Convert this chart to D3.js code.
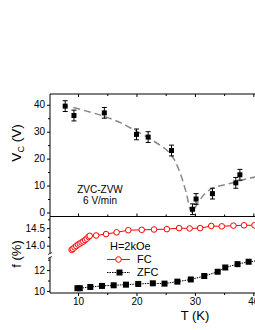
<!DOCTYPE html>
<html>
<head>
<meta charset="utf-8">
<script src="https://cdn.jsdelivr.net/npm/d3@7"></script>
<style>
  body { margin: 0; background: #fff; }
  text { font-family: "Liberation Sans", Arial, sans-serif; fill: #000; }
</style>
</head>
<body>
<div class="viz"></div>
<script>
// critical voltage vs T (top panel)
var vcT   = [7.8, 9.3, 14.5, 20.0, 22.0, 26.0, 29.6, 30.2, 33.0, 37.0, 37.7];
var vcV   = [39.5, 36, 37, 29, 28, 23, 1.2, 5, 7, 11, 14];
var vcErr = [2, 2, 2, 2, 2, 2, 2, 2, 2, 2, 2];

// dashed guide line
var fitT = [9.2, 12, 14.5, 17, 19.5, 22, 24, 25.5, 26.5, 27.5, 28.5, 29.4, 30.5, 31.5, 32.8, 34.5, 36.5, 39, 42];
var fitV = [39, 37.3, 35.7, 33.6, 30.8, 27.8, 25, 22.5, 19.5, 14.5, 7.5, 0.2, 3.5, 6.5, 8.8, 10, 11, 12.6, 13.6];

// volume fraction f (bottom panel)
var fcT = [8.9, 9.1, 9.4, 9.7, 10.0, 10.3, 10.6, 10.9, 11.2, 11.5, 11.8, 12.0, 13.1, 14.8, 16.6, 18.6, 20.9, 23.0, 25.2, 27.3, 29.1, 30.9, 32.8, 34.6, 36.6, 38.4, 40.2];
var fcF = [13.88, 13.91, 13.95, 13.99, 14.03, 14.06, 14.09, 14.12, 14.16, 14.2, 14.25, 14.28, 14.29, 14.33, 14.38, 14.44, 14.45, 14.46, 14.47, 14.5, 14.49, 14.5, 14.56, 14.55, 14.57, 14.58, 14.58];
var zfcT = [9.9, 10.3, 12.1, 14.1, 16.1, 18.2, 20.3, 22.8, 24.8, 27.0, 29.3, 31.6, 33.9, 35.2, 37.3, 39.2, 40.8];
var zfcF = [10.26, 10.26, 10.38, 10.48, 10.54, 10.6, 10.67, 10.73, 10.7, 10.89, 11.1, 11.43, 11.84, 12.25, 12.57, 12.8, 12.9];

var xTicks = [10, 20, 30, 40];
var xMinor = [15, 25, 35];
var vTicks = [0, 10, 20, 30, 40];
var vMinor = [5, 15, 25, 35];
var fHiTicks = [14.0, 14.5];
var fHiMinor = [14.25, 14.75];
var fLoTicks = [10, 12];
var fLoMinor = [11, 13];

var width = 255, height = 330;
var left = 50, right = 265;
var topY = 94, midY = 216.5, breakY = 255.5, botY = 293;

var svg = d3.select(".viz").append("svg")
  .attr("width", width).attr("height", height);

var x = d3.scaleLinear().domain([5.2, 42]).range([left, right]);
var yV = d3.scaleLinear().domain([-1.5, 44]).range([midY, topY]);
var yHi = d3.scaleLinear().domain([13.72, 14.83]).range([breakY, midY]);
var yLo = d3.scaleLinear().domain([9.8, 13.4]).range([botY, breakY]);

// ---- top panel ----
var gTop = svg.append("g");

gTop.append("g")
  .attr("transform", "translate(" + left + ",0)")
  .call(d3.axisLeft(yV).tickValues(vTicks).tickSize(3).tickPadding(2).tickFormat(d3.format("d")))
  .call(function(g) { g.select(".domain").remove(); });
gTop.append("g")
  .attr("transform", "translate(" + left + ",0)")
  .call(d3.axisLeft(yV).tickValues(vMinor).tickSize(2).tickFormat(""))
  .call(function(g) { g.select(".domain").remove(); });

// frame top (ticks inward) and bottom
gTop.append("g")
  .attr("transform", "translate(0," + topY + ")")
  .call(d3.axisBottom(x).tickValues(xTicks).tickSize(3).tickFormat(""))
  .call(function(g) { g.select(".domain").remove(); });
gTop.append("g")
  .attr("transform", "translate(0," + topY + ")")
  .call(d3.axisBottom(x).tickValues(xMinor).tickSize(2).tickFormat(""))
  .call(function(g) { g.select(".domain").remove(); });
gTop.append("g")
  .attr("transform", "translate(0," + midY + ")")
  .call(d3.axisTop(x).tickValues(xTicks).tickSize(3).tickFormat(""))
  .call(function(g) { g.select(".domain").remove(); });
gTop.append("g")
  .attr("transform", "translate(0," + midY + ")")
  .call(d3.axisTop(x).tickValues(xMinor).tickSize(2).tickFormat(""))
  .call(function(g) { g.select(".domain").remove(); });

svg.append("line").attr("x1", left).attr("x2", right).attr("y1", topY).attr("y2", topY).attr("stroke", "#000");
svg.append("line").attr("x1", left).attr("x2", right).attr("y1", midY).attr("y2", midY).attr("stroke", "#000");
svg.append("line").attr("x1", left).attr("x2", left).attr("y1", topY).attr("y2", midY).attr("stroke", "#000");

var fitLine = d3.line()
  .x(function(d, i) { return x(fitT[i]); })
  .y(function(d) { return yV(d); })
  .curve(d3.curveMonotoneX);

gTop.append("path")
  .attr("d", fitLine(fitV))
  .attr("fill", "none")
  .attr("stroke", "#888")
  .attr("stroke-width", 1.5)
  .attr("stroke-dasharray", "7,4");

var bars = gTop.selectAll("g.err")
  .data(vcV)
  .enter()
  .append("g")
  .attr("class", "err");

bars.append("line")
  .attr("x1", function(d, i) { return x(vcT[i]); })
  .attr("x2", function(d, i) { return x(vcT[i]); })
  .attr("y1", function(d, i) { return yV(d - vcErr[i]); })
  .attr("y2", function(d, i) { return yV(d + vcErr[i]); })
  .attr("stroke", "#000");
bars.selectAll("line.cap")
  .data(function(d, i) { return [[i, d - vcErr[i]], [i, d + vcErr[i]]]; })
  .enter()
  .append("line")
  .attr("class", "cap")
  .attr("x1", function(d) { return x(vcT[d[0]]) - 2.5; })
  .attr("x2", function(d) { return x(vcT[d[0]]) + 2.5; })
  .attr("y1", function(d) { return yV(d[1]); })
  .attr("y2", function(d) { return yV(d[1]); })
  .attr("stroke", "#000");
bars.append("rect")
  .attr("x", function(d, i) { return x(vcT[i]) - 2.5; })
  .attr("y", function(d) { return yV(d) - 2.5; })
  .attr("width", 5).attr("height", 5)
  .attr("fill", "#000");

gTop.append("text").attr("x", 100).attr("y", 193)
  .attr("text-anchor", "middle").attr("font-size", 10).text("ZVC-ZVW");
gTop.append("text").attr("x", 100).attr("y", 204)
  .attr("text-anchor", "middle").attr("font-size", 10).text("6 V/min");

var vLab = svg.append("text")
  .attr("transform", "translate(21,143) rotate(-90)")
  .attr("text-anchor", "middle")
  .attr("font-size", 13.5);
vLab.append("tspan").text("V");
vLab.append("tspan").attr("font-size", 9).attr("dy", 3).text("C");
vLab.append("tspan").attr("dy", -3).text(" (V)");

// ---- bottom panel (broken y axis) ----
var gBot = svg.append("g");

gBot.append("g")
  .attr("transform", "translate(" + left + ",0)")
  .call(d3.axisLeft(yHi).tickValues(fHiTicks).tickSize(3).tickPadding(2).tickFormat(d3.format(".1f")))
  .call(function(g) { g.select(".domain").remove(); });
gBot.append("g")
  .attr("transform", "translate(" + left + ",0)")
  .call(d3.axisLeft(yHi).tickValues(fHiMinor).tickSize(2).tickFormat(""))
  .call(function(g) { g.select(".domain").remove(); });
gBot.append("g")
  .attr("transform", "translate(" + left + ",0)")
  .call(d3.axisLeft(yLo).tickValues(fLoTicks).tickSize(3).tickPadding(2).tickFormat(d3.format("d")))
  .call(function(g) { g.select(".domain").remove(); });
gBot.append("g")
  .attr("transform", "translate(" + left + ",0)")
  .call(d3.axisLeft(yLo).tickValues(fLoMinor).tickSize(2).tickFormat(""))
  .call(function(g) { g.select(".domain").remove(); });

gBot.append("g")
  .attr("transform", "translate(0," + botY + ")")
  .call(d3.axisBottom(x).tickValues(xTicks).tickSize(3).tickPadding(2).tickFormat(d3.format("d")))
  .call(function(g) { g.select(".domain").remove(); });
gBot.append("g")
  .attr("transform", "translate(0," + botY + ")")
  .call(d3.axisBottom(x).tickValues(xMinor).tickSize(2).tickFormat(""))
  .call(function(g) { g.select(".domain").remove(); });

svg.append("line").attr("x1", left).attr("x2", right).attr("y1", botY).attr("y2", botY).attr("stroke", "#000");
svg.append("line").attr("x1", left).attr("x2", left).attr("y1", midY).attr("y2", breakY - 2).attr("stroke", "#000");
svg.append("line").attr("x1", left).attr("x2", left).attr("y1", breakY + 2).attr("y2", botY).attr("stroke", "#000");
[-2, 2].forEach(function(o) {
  svg.append("line")
    .attr("x1", left - 2).attr("x2", left + 2)
    .attr("y1", breakY + o + 1).attr("y2", breakY + o - 1)
    .attr("stroke", "#000").attr("stroke-width", 0.8);
});

svg.selectAll(".tick text").attr("font-size", 10).attr("fill", "#000")
  .style("font-family", "'Liberation Sans', Arial, sans-serif");
svg.selectAll(".tick line").attr("stroke", "#000");

// ZFC
var zfcLine = d3.line()
  .x(function(d, i) { return x(zfcT[i]); })
  .y(function(d) { return yLo(d); });
gBot.append("path")
  .attr("d", zfcLine(zfcF))
  .attr("fill", "none").attr("stroke", "#000")
  .attr("stroke-width", 1).attr("stroke-dasharray", "1.5,1");
gBot.selectAll("rect.zfc")
  .data(zfcF)
  .enter()
  .append("rect")
  .attr("class", "zfc")
  .attr("x", function(d, i) { return x(zfcT[i]) - 3; })
  .attr("y", function(d) { return yLo(d) - 3; })
  .attr("width", 6).attr("height", 6)
  .attr("fill", "#000");

// FC
var fcLine = d3.line()
  .x(function(d, i) { return x(fcT[i]); })
  .y(function(d) { return yHi(d); });
gBot.append("path")
  .attr("d", fcLine(fcF))
  .attr("fill", "none").attr("stroke", "#f00").attr("stroke-width", 1);
gBot.selectAll("circle.fc")
  .data(fcF)
  .enter()
  .append("circle")
  .attr("class", "fc")
  .attr("cx", function(d, i) { return x(fcT[i]); })
  .attr("cy", function(d) { return yHi(d); })
  .attr("r", 2.8)
  .attr("fill", "#fff").attr("stroke", "#f00").attr("stroke-width", 1);

// legend
gBot.append("text").attr("x", 110).attr("y", 250).attr("font-size", 11).text("H=2kOe");
gBot.append("line").attr("x1", 107).attr("x2", 130).attr("y1", 259.5).attr("y2", 259.5)
  .attr("stroke", "#f00");
gBot.append("circle").attr("cx", 118.5).attr("cy", 259.5).attr("r", 2.8)
  .attr("fill", "#fff").attr("stroke", "#f00");
gBot.append("text").attr("x", 137).attr("y", 263).attr("font-size", 11).text("FC");
gBot.append("line").attr("x1", 107).attr("x2", 130).attr("y1", 272.5).attr("y2", 272.5)
  .attr("stroke", "#000").attr("stroke-dasharray", "1.5,1");
gBot.append("rect").attr("x", 116.5).attr("y", 269.5).attr("width", 6).attr("height", 6)
  .attr("fill", "#000");
gBot.append("text").attr("x", 137).attr("y", 276).attr("font-size", 11).text("ZFC");

svg.append("text")
  .attr("transform", "translate(21,254) rotate(-90)")
  .attr("text-anchor", "middle")
  .attr("font-size", 13)
  .text("f (%)");

svg.append("text").attr("x", 195).attr("y", 320)
  .attr("text-anchor", "middle").attr("font-size", 13).text("T (K)");
</script>
</body>
</html>
